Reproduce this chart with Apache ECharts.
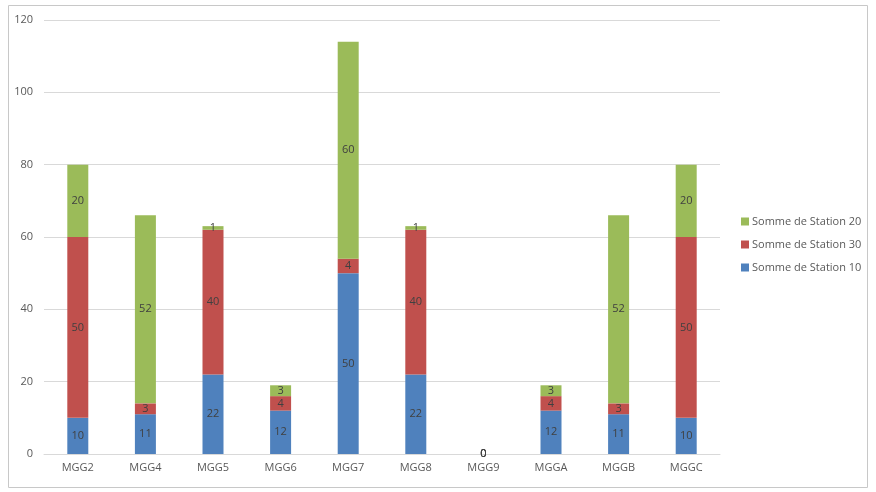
<!DOCTYPE html>
<html><head><meta charset="utf-8">
<script src="https://cdn.jsdelivr.net/npm/echarts@6/dist/echarts.min.js"></script>
<style>html,body{margin:0;padding:0;background:#fff}#c{width:876px;height:492px}</style>
</head><body><div id="c"></div>
<script>
var categories = ['MGG2','MGG4','MGG5','MGG6','MGG7','MGG8','MGG9','MGGA','MGGB','MGGC'];
var station10 = [10, 11, 22, 12, 50, 22, 0, 12, 11, 10];
var station30 = [50, 3, 40, 4, 4, 40, 0, 4, 3, 50];
var station20 = [20, 52, 1, 3, 60, 1, 0, 3, 52, 20];
var names = ['Somme de Station 10','Somme de Station 30','Somme de Station 20'];
var colors = ['#4f81bd','#c0504d','#9bbb59'];
var font = '"Open Sans", "DejaVu Sans", sans-serif';
var chart = echarts.init(document.getElementById('c'));
function ser(i, data){
  return {name: names[i], type:'bar', stack:'s', data:data, barWidth:21,
    itemStyle:{color:colors[i]},
    label:{show:true, position:'inside', color:'#404040', fontSize:11, fontFamily:font}};
}
chart.setOption({
  animation:false,
  graphic:[
    {type:'rect', shape:{x:8.5,y:5.5,width:859,height:482}, style:{fill:'none', stroke:'#c8c8c8', lineWidth:1}, silent:true}
  ],
  grid:{left:44, right:156, top:20, bottom:38, containLabel:false},
  legend:{orient:'vertical', left:736, top:211, itemWidth:8, itemHeight:8, itemGap:12,
    icon:'rect', data:[names[2],names[1],names[0]],
    textStyle:{color:'#595959', fontSize:11, fontFamily:font, padding:[0,0,0,-2]}},
  xAxis:{type:'category', data:categories,
    axisLine:{lineStyle:{color:'#d9d9d9'}}, axisTick:{show:false},
    axisLabel:{color:'#595959', fontSize:11, fontFamily:font, margin:8}},
  yAxis:{type:'value', min:0, max:120, interval:20,
    axisLine:{show:false}, axisTick:{show:false},
    splitLine:{lineStyle:{color:'#d9d9d9'}},
    axisLabel:{color:'#595959', fontSize:11, fontFamily:font, margin:11}},
  series:[ser(0,station10), ser(1,station30), ser(2,station20)]
});
</script></body></html>
